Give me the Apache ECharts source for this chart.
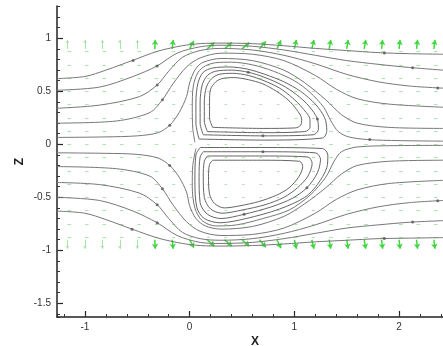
<!DOCTYPE html>
<html>
<head>
<meta charset="utf-8">
<script src="https://cdn.jsdelivr.net/npm/echarts@6/dist/echarts.min.js"></script>
<style>
html, body { margin: 0; padding: 0; background: #fff; }
#chart { width: 443px; height: 346px; }
</style>
</head>
<body>
<div id="chart"></div>
<script>
// axis extents and tick labels
var xRange = [-1.267, 2.42];
var zRange = [-1.629, 1.305];
var xTicks = [-1, 0, 1, 2];
var zTicks = [-1.5, -1, -0.5, 0, 0.5, 1];

// streamlines above the centre line (x, z)
var streamU1 = [[-1.27,0.62],[-1.0,0.64],[-0.8,0.70],[-0.55,0.79],[-0.3,0.88],[-0.07,0.93],[0.1,0.95],[0.3,0.955],[0.6,0.95],[0.9,0.93],[1.2,0.905],[1.5,0.885],[1.8,0.865],[2.1,0.855],[2.42,0.85]];
var streamU2 = [[-1.27,0.51],[-0.86,0.54],[-0.54,0.64],[-0.31,0.74],[-0.12,0.86],[0.1,0.92],[0.3,0.935],[0.6,0.925],[0.9,0.89],[1.2,0.84],[1.5,0.79],[1.8,0.755],[2.1,0.725],[2.42,0.70]];
var streamU3 = [[-1.27,0.34],[-0.86,0.37],[-0.48,0.45],[-0.31,0.56],[-0.2,0.69],[-0.07,0.82],[0.1,0.885],[0.3,0.905],[0.6,0.89],[0.9,0.84],[1.2,0.76],[1.5,0.66],[1.8,0.59],[2.1,0.55],[2.42,0.53]];
var streamU4 = [[-1.27,0.20],[-0.7,0.22],[-0.38,0.30],[-0.26,0.42],[-0.16,0.57],[-0.03,0.73],[0.1,0.815],[0.3,0.86],[0.6,0.85],[0.9,0.79],[1.2,0.65],[1.4,0.52],[1.6,0.43],[1.9,0.38],[2.42,0.35]];
var streamU5 = [[-1.27,0.065],[-0.8,0.07],[-0.5,0.08],[-0.3,0.11],[-0.19,0.18],[-0.1,0.3],[-0.03,0.45],[0.0,0.58],[0.05,0.70],[0.12,0.77],[0.3,0.81],[0.6,0.79],[0.9,0.70],[1.1,0.58],[1.3,0.42],[1.45,0.28],[1.6,0.2],[1.9,0.16],[2.42,0.15]];
var sepU = [[0.05,0.02],[0.03,0.15],[0.025,0.35],[0.035,0.55],[0.08,0.68],[0.15,0.74],[0.25,0.77],[0.4,0.775],[0.6,0.75],[0.8,0.69],[1.0,0.6],[1.15,0.49],[1.28,0.35],[1.35,0.22],[1.42,0.12],[1.52,0.07],[1.7,0.045],[2.0,0.035],[2.42,0.03]];

// streamlines below the centre line
var streamL1 = [[-1.27,-0.63],[-1.0,-0.65],[-0.8,-0.71],[-0.55,-0.80],[-0.3,-0.885],[-0.07,-0.935],[0.1,-0.955],[0.3,-0.96],[0.6,-0.955],[0.9,-0.94],[1.2,-0.92],[1.5,-0.905],[1.8,-0.89],[2.1,-0.885],[2.42,-0.88]];
var streamL2 = [[-1.27,-0.50],[-0.86,-0.53],[-0.54,-0.63],[-0.31,-0.74],[-0.12,-0.86],[0.1,-0.925],[0.3,-0.935],[0.6,-0.925],[0.9,-0.89],[1.2,-0.84],[1.5,-0.79],[1.8,-0.76],[2.1,-0.735],[2.42,-0.72]];
var streamL3 = [[-1.27,-0.36],[-0.86,-0.38],[-0.48,-0.46],[-0.31,-0.57],[-0.2,-0.7],[-0.07,-0.83],[0.1,-0.89],[0.3,-0.905],[0.6,-0.89],[0.9,-0.84],[1.2,-0.76],[1.5,-0.66],[1.8,-0.59],[2.1,-0.55],[2.42,-0.53]];
var streamL4 = [[-1.27,-0.21],[-0.7,-0.23],[-0.38,-0.30],[-0.26,-0.42],[-0.16,-0.57],[-0.03,-0.73],[0.1,-0.82],[0.3,-0.86],[0.6,-0.85],[0.9,-0.79],[1.2,-0.65],[1.4,-0.52],[1.6,-0.43],[1.9,-0.37],[2.42,-0.34]];
var streamL5 = [[-1.27,-0.08],[-0.8,-0.085],[-0.5,-0.095],[-0.3,-0.13],[-0.19,-0.2],[-0.1,-0.31],[-0.03,-0.45],[0.0,-0.58],[0.06,-0.7],[0.15,-0.77],[0.3,-0.8],[0.6,-0.775],[0.9,-0.68],[1.1,-0.56],[1.3,-0.41],[1.45,-0.28],[1.6,-0.2],[1.9,-0.16],[2.42,-0.15]];
var sepL = [[0.06,-0.04],[0.03,-0.2],[0.025,-0.4],[0.05,-0.6],[0.12,-0.72],[0.25,-0.77],[0.45,-0.76],[0.7,-0.70],[0.95,-0.62],[1.15,-0.48],[1.3,-0.31],[1.38,-0.16],[1.45,-0.07],[1.6,-0.025],[2.0,-0.012],[2.42,-0.01]];

// closed loops of the upper recirculation bubble
var loopU1 = [[0.09,0.05],[0.06,0.2],[0.06,0.4],[0.08,0.58],[0.13,0.68],[0.22,0.72],[0.38,0.73],[0.55,0.71],[0.72,0.66],[0.9,0.59],[1.06,0.5],[1.2,0.38],[1.29,0.25],[1.31,0.13],[1.27,0.06],[0.7,0.04],[0.09,0.05]];
var loopU2 = [[0.13,0.09],[0.1,0.2],[0.1,0.4],[0.12,0.56],[0.17,0.65],[0.25,0.69],[0.4,0.70],[0.56,0.68],[0.72,0.63],[0.88,0.56],[1.02,0.47],[1.14,0.36],[1.22,0.24],[1.23,0.14],[1.18,0.09],[0.7,0.08],[0.13,0.09]];
var loopU3 = [[0.17,0.12],[0.14,0.22],[0.14,0.4],[0.16,0.54],[0.21,0.62],[0.28,0.66],[0.41,0.67],[0.56,0.65],[0.71,0.6],[0.86,0.53],[0.98,0.44],[1.08,0.34],[1.15,0.23],[1.15,0.16],[1.1,0.12],[0.7,0.11],[0.17,0.12]];
var loopU4 = [[0.22,0.16],[0.19,0.25],[0.19,0.4],[0.2,0.52],[0.25,0.59],[0.31,0.62],[0.42,0.63],[0.56,0.61],[0.7,0.57],[0.83,0.5],[0.94,0.42],[1.02,0.33],[1.07,0.24],[1.06,0.18],[1.01,0.155],[0.7,0.15],[0.22,0.16]];

// closed loops of the lower recirculation bubble
var loopL1 = [[0.1,-0.03],[0.7,-0.03],[1.27,-0.04],[1.32,-0.1],[1.31,-0.22],[1.22,-0.38],[1.1,-0.5],[0.86,-0.61],[0.54,-0.70],[0.29,-0.74],[0.14,-0.7],[0.07,-0.6],[0.05,-0.35],[0.06,-0.1],[0.1,-0.03]];
var loopL2 = [[0.13,-0.07],[0.7,-0.07],[1.2,-0.08],[1.25,-0.14],[1.22,-0.27],[1.12,-0.41],[0.98,-0.51],[0.78,-0.59],[0.52,-0.66],[0.3,-0.70],[0.17,-0.66],[0.1,-0.55],[0.09,-0.3],[0.1,-0.12],[0.13,-0.07]];
var loopL3 = [[0.17,-0.11],[0.7,-0.11],[1.13,-0.12],[1.17,-0.18],[1.13,-0.3],[1.03,-0.41],[0.9,-0.5],[0.72,-0.57],[0.5,-0.62],[0.31,-0.65],[0.2,-0.61],[0.14,-0.5],[0.13,-0.3],[0.14,-0.16],[0.17,-0.11]];
var loopL4 = [[0.22,-0.15],[0.7,-0.15],[1.05,-0.16],[1.08,-0.21],[1.04,-0.31],[0.95,-0.41],[0.83,-0.48],[0.66,-0.54],[0.48,-0.58],[0.33,-0.6],[0.24,-0.56],[0.19,-0.47],[0.18,-0.3],[0.19,-0.19],[0.22,-0.15]];

// arrow marks sitting on the streamlines
var arrowDots = [[-0.54,0.79],[-0.31,0.74],[-0.31,0.56],[-0.26,0.42],[-0.19,0.18],
  [-0.55,-0.80],[-0.31,-0.74],[-0.31,-0.57],[-0.26,-0.42],[-0.19,-0.2],
  [1.86,0.862],[2.13,0.722],[2.37,0.532],[1.72,0.045],
  [1.86,-0.888],[2.13,-0.733],[2.37,-0.532],
  [0.7,0.08],[0.56,0.68],[0.7,-0.07],[0.52,-0.66],[1.22,0.24],[1.12,-0.41]];

// vector field: grid columns and rows, and read vector components
var vecCols = [-1.167,-1,-0.833,-0.667,-0.5,-0.333,-0.167,0,0.167,0.333,0.5,0.667,0.833,1,1.167,1.333,1.5,1.667,1.833,2,2.167,2.333];
var vecRows = [-0.875,-0.75,-0.625,-0.5,-0.375,-0.25,-0.125,0,0.125,0.25,0.375,0.5,0.625,0.75,0.875];
var interiorU = [0.035,0.035,0.035,0.035,0.035,0.035,0.03,0.025,0.025,0.025,0.025,0.025,0.025,0.03,0.03,0.035,0.035,0.035,0.035,0.035,0.035,0.035];
var wallTopU = [0,0,0,0,0,0.005,0.01,0.04,0.07,0.07,0.07,0.06,0.04,0.02,0.02,0.015,0.015,0.015,0.01,0.01,0.01,0.01];
var wallTopW = [0.085,0.085,0.085,0.085,0.085,0.085,0.085,0.075,0.06,0.06,0.06,0.07,0.08,0.085,0.085,0.085,0.085,0.085,0.085,0.085,0.085,0.085];
var wallBotU = [0,0,0,0,0,0.005,0.01,0.04,0.07,0.07,0.07,0.06,0.04,0.02,0.02,0.015,0.015,0.015,0.01,0.01,0.01,0.01];
var wallBotW = [-0.085,-0.085,-0.085,-0.085,-0.085,-0.085,-0.085,-0.075,-0.06,-0.06,-0.06,-0.07,-0.08,-0.085,-0.085,-0.085,-0.085,-0.085,-0.085,-0.085,-0.085,-0.085];
var wallTail = 0.90;

var FONT = '"Liberation Sans", Arial, sans-serif';

var chart = echarts.init(document.getElementById('chart'));

function streamSeries(pts, color) {
  return {
    type: 'line', xAxisIndex: 0, yAxisIndex: 0,
    data: pts, showSymbol: false, smooth: 0.3,
    lineStyle: { color: color, width: 1 },
    silent: true, animation: false, z: 3
  };
}

// build vector segments
var interiorVecs = [];
for (var i = 0; i < vecCols.length; i++) {
  for (var j = 0; j < vecRows.length; j++) {
    interiorVecs.push({ coords: [[vecCols[i], vecRows[j]], [vecCols[i] + interiorU[i], vecRows[j]]] });
  }
}
var wallFaint = [], wallBright = [];
for (var k = 0; k < vecCols.length; k++) {
  var vTop = { coords: [[vecCols[k], wallTail], [vecCols[k] + wallTopU[k], wallTail + wallTopW[k]]] };
  var vBot = { coords: [[vecCols[k], -wallTail], [vecCols[k] + wallBotU[k], -wallTail + wallBotW[k]]] };
  if (vecCols[k] < -0.4) { wallFaint.push(vTop, vBot); } else { wallBright.push(vTop, vBot); }
}

var series = [
  {
    type: 'lines', coordinateSystem: 'cartesian2d', xAxisIndex: 0, yAxisIndex: 0,
    data: interiorVecs, symbol: ['none', 'none'],
    lineStyle: { color: '#a9e8a9', width: 1, opacity: 1 },
    silent: true, animation: false, z: 1
  },
  {
    type: 'lines', coordinateSystem: 'cartesian2d', xAxisIndex: 0, yAxisIndex: 0,
    data: wallFaint, symbol: ['none', 'arrow'], symbolSize: 3,
    lineStyle: { color: '#a3e6a3', width: 1, opacity: 1 },
    silent: true, animation: false, z: 1
  },
  {
    type: 'lines', coordinateSystem: 'cartesian2d', xAxisIndex: 0, yAxisIndex: 0,
    data: wallBright, symbol: ['none', 'arrow'], symbolSize: 5,
    lineStyle: { color: '#3ed63e', width: 1.5, opacity: 1 },
    silent: true, animation: false, z: 2
  }
];

[streamU1, streamU2, streamU3, streamU4, streamU5, sepU,
 streamL1, streamL2, streamL3, streamL4, streamL5, sepL].forEach(function (s) {
  series.push(streamSeries(s, '#777777'));
});
[loopU1, loopU2, loopU3, loopU4, loopL1, loopL2, loopL3, loopL4].forEach(function (s) {
  series.push(streamSeries(s, '#666666'));
});
series.push({
  type: 'scatter', xAxisIndex: 0, yAxisIndex: 0, data: arrowDots,
  symbolSize: 3, itemStyle: { color: '#555' }, silent: true, animation: false, z: 4
});

var gridRect = { left: 57, top: 6, width: 386, height: 311, outerBoundsMode: 'none' };

var option = {
  backgroundColor: '#ffffff',
  animation: false,
  grid: [
    Object.assign({}, gridRect),
    Object.assign({}, gridRect)
  ],
  xAxis: [
    {
      gridIndex: 0, type: 'value', min: xRange[0], max: xRange[1], splitNumber: 4,
      axisLine: { show: true, onZero: false, lineStyle: { color: '#222', width: 1.5 } },
      axisTick: { show: true, inside: true, length: 6, customValues: xTicks, lineStyle: { color: '#222', width: 1.2 } },
      axisLabel: { customValues: xTicks, margin: 5, fontSize: 10, color: '#333', fontFamily: FONT },
      splitLine: { show: false },
      name: 'X', nameLocation: 'middle', nameGap: 19, nameMoveOverlap: false,
      nameTextStyle: { fontFamily: FONT, fontWeight: 'bold', fontSize: 12, color: '#222', padding: [0, 0, 0, 10] }
    },
    {
      gridIndex: 1, type: 'value', min: xRange[0], max: xRange[1], splitNumber: 18,
      axisLine: { show: false, onZero: false },
      axisTick: { show: true, inside: true, length: 3, lineStyle: { color: '#333', width: 1 } },
      axisLabel: { show: false }, splitLine: { show: false }
    }
  ],
  yAxis: [
    {
      gridIndex: 0, type: 'value', min: zRange[0], max: zRange[1], splitNumber: 6,
      axisLine: { show: true, onZero: false, lineStyle: { color: '#222', width: 1.5 } },
      axisTick: { show: true, inside: true, length: 6, customValues: zTicks, lineStyle: { color: '#222', width: 1.2 } },
      axisLabel: { customValues: zTicks, margin: 6, fontSize: 10, color: '#333', fontFamily: FONT },
      splitLine: { show: false },
      name: 'Z', nameLocation: 'middle', nameGap: 31, nameMoveOverlap: false,
      nameTextStyle: { fontFamily: FONT, fontWeight: 'bold', fontSize: 12, color: '#222' }
    },
    {
      gridIndex: 1, type: 'value', min: zRange[0], max: zRange[1], splitNumber: 29,
      axisLine: { show: false, onZero: false },
      axisTick: { show: true, inside: true, length: 3, lineStyle: { color: '#333', width: 1 } },
      axisLabel: { show: false }, splitLine: { show: false }
    }
  ],
  series: series
};

chart.setOption(option);
</script>
</body>
</html>
